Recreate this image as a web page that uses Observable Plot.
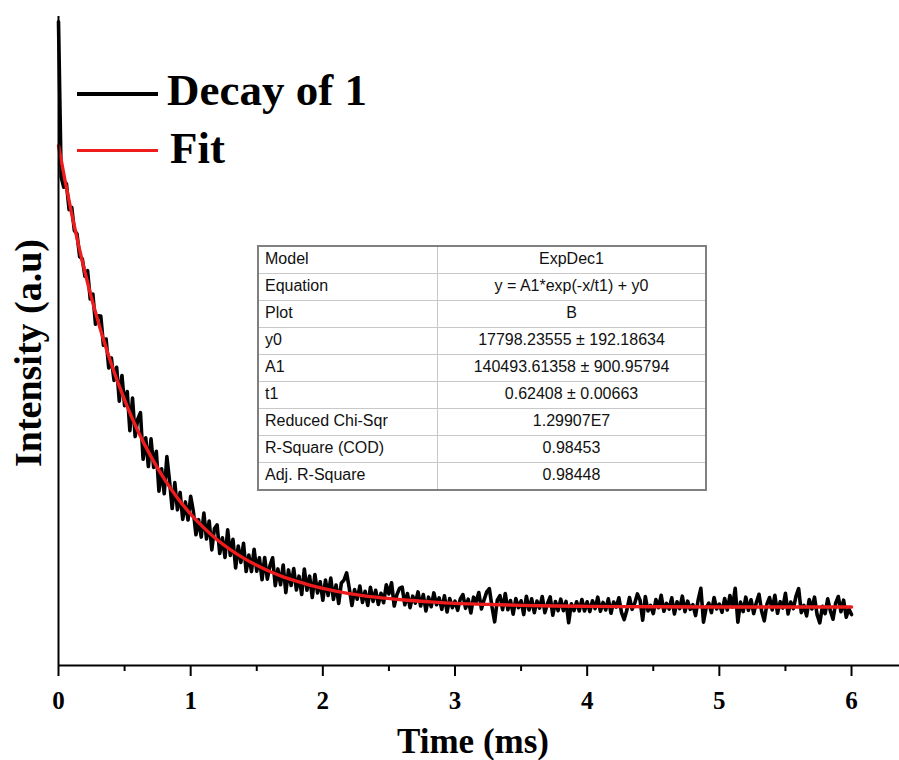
<!DOCTYPE html>
<html><head><meta charset="utf-8">
<script src="https://cdn.jsdelivr.net/npm/d3@7"></script>
<script src="https://cdn.jsdelivr.net/npm/@observablehq/plot@0.6"></script>
<style>
body{margin:0;background:#fff;}
#wrap{position:relative;width:899px;height:760px;overflow:hidden;}
.legtxt{position:absolute;font-family:"Liberation Serif","Times New Roman",serif;font-weight:bold;font-size:45px;line-height:1;color:#000;white-space:nowrap;}
.legline{position:absolute;height:4px;width:81px;left:77px;}
#tbl{position:absolute;left:257px;top:245px;width:450px;border-collapse:collapse;font-family:"Liberation Sans",Arial,sans-serif;font-size:16px;color:#111;border:2px solid #808080;}
#tbl td{height:24px;padding:0 0 2px 6px;border-top:1px solid #c8c8c8;white-space:nowrap;line-height:18px;}
#tbl td.v{text-align:center;border-left:1px solid #c8c8c8;padding-left:0;}
</style></head>
<body><div id="wrap"></div>
<script>
// Time step of the recorded decay (ms)
const timeStep = 0.02;
// Recorded decay intensity (×1000 counts), one value every 0.02 ms from 0 to 6 ms
const decay = [
196.0,148.8,145.6,146.7,138.8,139.5,132.4,131.4,124.5,123.8,118.5,
120.2,111.6,113.1,103.9,106.5,106.4,97.5,99.4,90.6,93.6,
86.8,90.8,80.5,88.3,79.1,83.4,71.5,81.4,69.7,75.1,
77.0,62.8,69.3,60.6,69.0,60.3,65.2,53.1,59.9,52.3,
63.6,56.2,47.8,55.7,47.4,52.7,44.5,49.8,44.3,51.5,
47.0,39.8,44.4,39.1,46.4,38.5,44.0,35.2,41.7,42.8,
34.1,38.9,32.9,41.3,33.5,38.4,29.7,36.4,31.4,37.2,
28.6,33.6,28.6,35.4,28.7,32.8,26.1,32.9,26.3,30.4,
32.8,24.3,29.4,24.6,30.6,22.2,29.1,24.4,29.5,23.0,
27.2,21.6,29.4,22.9,27.2,20.7,27.7,22.1,25.5,19.9,
26.0,21.3,26.6,20.1,24.5,18.9,25.1,26.0,28.2,23.5,
18.3,23.1,20.2,24.2,19.2,22.6,18.3,23.8,19.5,22.9,
18.6,22.0,19.1,24.6,21.8,25.2,18.1,21.5,23.5,23.9,
18.5,21.9,17.6,21.1,19.0,22.4,18.1,21.6,16.6,20.8,
17.9,22.1,18.5,20.6,17.1,21.2,16.3,20.4,17.6,19.6,
16.8,20.3,21.6,17.4,20.2,16.0,20.8,19.4,22.2,17.2,
20.0,22.4,23.4,17.8,13.3,19.9,21.3,17.0,21.9,17.0,
19.8,15.6,20.4,17.6,19.7,15.5,21.1,16.9,20.3,16.1,
19.6,17.5,21.0,16.1,18.9,20.9,15.3,19.5,16.7,20.2,
16.7,19.5,13.0,18.8,16.7,19.4,16.6,20.1,16.6,19.4,
16.4,19.7,17.3,20.8,16.5,19.2,16.9,20.3,15.9,19.3,
17.8,20.6,16.1,14.0,16.8,20.7,17.1,19.0,21.8,19.9,
13.8,21.0,16.6,18.3,15.8,20.1,17.6,21.4,16.5,18.9,
17.2,20.6,15.7,19.4,17.3,21.1,16.4,19.6,17.1,18.5,
15.2,20.0,23.5,13.2,17.5,19.0,16.1,20.7,17.2,18.7,
16.2,20.4,16.9,21.3,17.8,23.5,13.2,19.3,16.4,20.8,
16.8,20.0,15.8,19.2,21.7,16.5,13.6,18.7,20.7,16.9,
21.4,15.9,19.4,17.5,22.0,15.7,19.3,17.3,21.1,23.4,
16.1,18.3,15.1,20.1,17.2,20.8,15.4,13.0,18.0,15.8,
20.3,16.6,14.1,19.0,21.0,16.4,19.9,14.7,17.2,15.5
];
// Fitted curve (ExpDec1), read at these times (ms) and values (×1000)
const fitTime = [0,0.05,0.1,0.15,0.2,0.25,0.3,0.35,0.4,0.45,0.5,0.6,0.7,0.8,0.9,1.0,1.1,1.2,1.3,1.4,1.5,1.6,1.7,1.8,1.9,2.0,2.2,2.4,2.6,2.8,3.0,3.25,3.5,3.75,4.0,4.5,5.0,5.5,6.0];
const fitValue = [158.3,147.5,137.5,128.3,119.8,111.9,104.7,98.0,91.8,86.1,80.9,71.5,63.6,56.8,51.0,46.1,41.9,38.3,35.3,32.7,30.5,28.6,27.0,25.7,24.5,23.5,21.9,20.8,20.0,19.4,18.9,18.6,18.3,18.1,18.0,17.9,17.8,17.8,17.8];
// Axis ticks
const majorTicks = [0,1,2,3,4,5,6];
const minorTicks = [0.5,1.5,2.5,3.5,4.5,5.5];
// Legend
const seriesNames = ["Decay of 1","Fit"];
const seriesColors = ["#000000","#ee1c1c"];
// Fit results table
const tableLabels = ["Model","Equation","Plot","y0","A1","t1","Reduced Chi-Sqr","R-Square (COD)","Adj. R-Square"];
const tableValues = ["ExpDec1","y = A1*exp(-x/t1) + y0","B","17798.23555 ± 192.18634","140493.61358 ± 900.95794","0.62408 ± 0.00663","1.29907E7","0.98453","0.98448"];

const decayData = decay.map((v,i)=>({t:+(i*timeStep).toFixed(2), v}));
const fitData = fitTime.map((t,i)=>({t, v:fitValue[i]}));

const chart = Plot.plot({
  width:899, height:760,
  marginLeft:58, marginRight:0, marginTop:16, marginBottom:95,
  style:{fontFamily:'"Liberation Serif","Times New Roman",serif', fontWeight:"bold", color:"#000", background:"#fff"},
  x:{domain:[0,6.363]},
  y:{domain:[0,197.6], axis:null},
  marks:[
    Plot.line(decayData,{x:"t",y:"v",stroke:seriesColors[0],strokeWidth:3.6,strokeLinejoin:"round"}),
    Plot.line(fitData,{x:"t",y:"v",stroke:seriesColors[1],strokeWidth:3.4,curve:"monotone-x"}),
    Plot.ruleX([0],{stroke:"#000",strokeWidth:2}),
    Plot.ruleY([0],{stroke:"#000",strokeWidth:2}),
    Plot.axisX({ticks:majorTicks,tickSize:11,tickPadding:15,tickFormat:d=>String(d),fontSize:25,fontWeight:"bold",strokeWidth:2,label:null}),
    Plot.axisX({ticks:minorTicks,tickSize:6,tickFormat:()=>"",strokeWidth:2,label:null}),
    Plot.text(["Time (ms)"],{frameAnchor:"bottom",textAnchor:"middle",dx:-6,dy:76,fontSize:35,fontWeight:"bold",lineAnchor:"middle"}),
    Plot.text(["Intensity (a.u)"],{frameAnchor:"left",textAnchor:"middle",rotate:-90,dx:-30,dy:12,fontSize:38,fontWeight:"bold",lineAnchor:"middle"})
  ]
});
const wrap = document.getElementById("wrap");
wrap.appendChild(chart);

// Legend
const legTops = [68,126];
const lineTops = [92,149];
seriesNames.forEach((n,i)=>{
  const l = document.createElement("div");
  l.className="legline"; l.style.top=lineTops[i]+"px"; l.style.background=seriesColors[i];
  if(i===1) l.style.height="3px";
  wrap.appendChild(l);
  const t = document.createElement("div");
  t.className="legtxt"; t.style.top=legTops[i]+"px"; t.style.left=(i===0?167:170)+"px";
  t.textContent=n; wrap.appendChild(t);
});

// Table
const tbl = document.createElement("table");
tbl.id="tbl";
tableLabels.forEach((lab,i)=>{
  const tr=document.createElement("tr");
  const a=document.createElement("td"); a.textContent=lab; a.style.width="172px";
  const b=document.createElement("td"); b.className="v"; b.textContent=tableValues[i];
  if(i===0){a.style.borderTop="none";b.style.borderTop="none";}
  tr.appendChild(a); tr.appendChild(b); tbl.appendChild(tr);
});
wrap.appendChild(tbl);
</script>
</body></html>
